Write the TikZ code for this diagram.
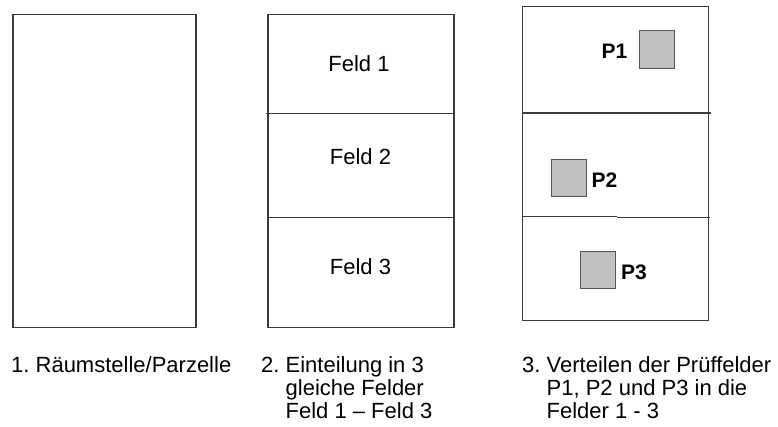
\documentclass[tikz,border=0pt]{standalone}
\usepackage{fontspec}
\setmainfont{Liberation Sans}
\definecolor{edge}{HTML}{3A3A3A}
\definecolor{pfill}{HTML}{C0C0C0}
\definecolor{pedge}{HTML}{555555}
\begin{document}
\frenchspacing
\begin{tikzpicture}[x=1pt,y=-1pt,
  frame/.style={draw=edge,line width=1.2pt},
  divider/.style={draw=edge,line width=1.1pt},
  feld/.style={inner sep=0pt,font=\fontsize{22}{23.3}\selectfont},
  plabel/.style={inner sep=0pt,font=\fontsize{21}{23}\selectfont\bfseries},
  probe/.style={draw=pedge,fill=pfill,line width=1pt},
  caption/.style={inner sep=0pt,anchor=base west,font=\fontsize{22}{23.3}\selectfont}]
\useasboundingbox (0,0) rectangle (778,427);
% Box 1
\draw[frame] (13,14.3) rectangle (196,327.7);
% Box 2
\draw[frame] (268,14.3) rectangle (454,327.7);
\draw[divider] (266,113.7) -- (454,113.7);
\draw[divider] (268,217.3) -- (454,217.3);
\node[feld] (f1) at (359,64) {Feld 1};
\node[feld] (f2) at (360.5,156.5) {Feld 2};
\node[feld] (f3) at (360.5,266.5) {Feld 3};
% Box 3
\draw[frame] (522.7,6.8) rectangle (708.5,320.7);
\draw[divider] (522.7,113) -- (711,113);
\draw[divider] (522.7,216.8) -- (617,216.8);
\draw[divider] (617,217.4) -- (710,217.4);
\draw[probe] (639.5,31) rectangle (674,68.3);
\draw[probe] (551.8,160) rectangle (586.7,196.7);
\draw[probe] (580.7,252) rectangle (615.7,289);
\node[plabel] (p1) at (614.5,51) {P1};
\node[plabel] (p2) at (604.5,180) {P2};
\node[plabel] (p3) at (634,272.5) {P3};
% Captions
\node[caption] (c1) at (11,372) {1. Räumstelle/Parzelle};
\node[caption] (c2) at (261,372) {\begin{tabular}[t]{@{}l@{}l@{}}\mbox{2.\ }& Einteilung in 3\\ & gleiche Felder\\ & Feld 1 – Feld 3\end{tabular}};
\node[caption] (c3) at (522,372) {\begin{tabular}[t]{@{}l@{}l@{}}\mbox{3.\ }& Verteilen der Prüffelder\\ & P1, P2 und P3 in die\\ & Felder 1 - 3\end{tabular}};
\end{tikzpicture}
\end{document}
